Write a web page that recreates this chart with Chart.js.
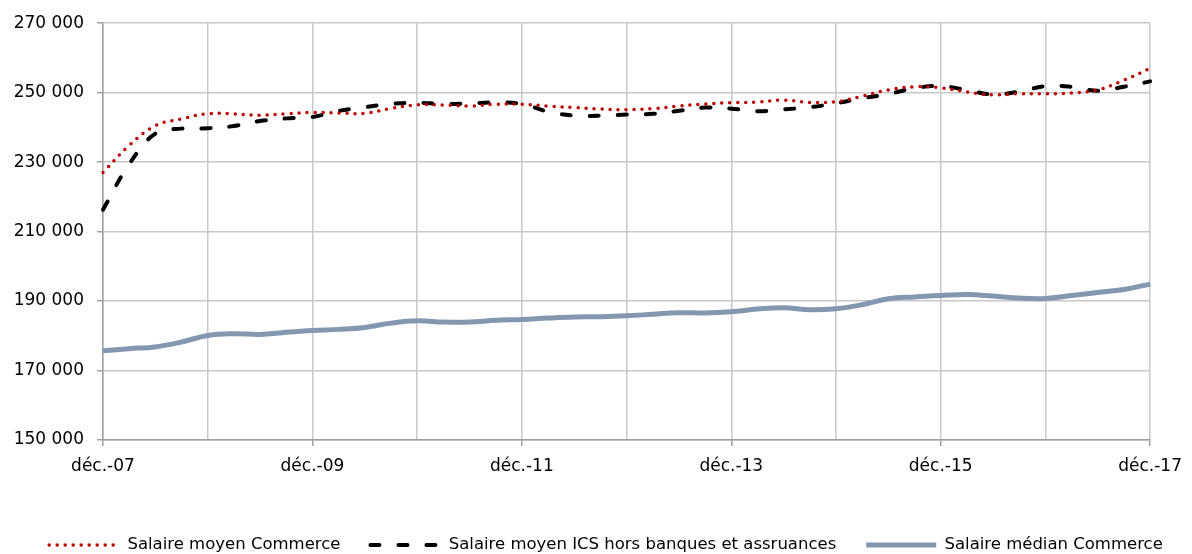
<!DOCTYPE html>
<html>
<head>
<meta charset="utf-8">
<script src="https://cdn.jsdelivr.net/npm/chart.js@4.4.1/dist/chart.umd.min.js"></script>
<style>
  html, body { margin: 0; padding: 0; background: #fff; }
  #wrap { width: 1192px; height: 554px; }
</style>
</head>
<body>
<div id="wrap"><canvas id="salaires"></canvas></div>
<script>
// trimestres de déc. 2007 à déc. 2017
const trimestres = [
  'déc.-07', 'mars-08', 'juin-08', 'sept.-08', 'déc.-08', 'mars-09', 'juin-09', 'sept.-09',
  'déc.-09', 'mars-10', 'juin-10', 'sept.-10', 'déc.-10', 'mars-11', 'juin-11', 'sept.-11',
  'déc.-11', 'mars-12', 'juin-12', 'sept.-12', 'déc.-12', 'mars-13', 'juin-13', 'sept.-13',
  'déc.-13', 'mars-14', 'juin-14', 'sept.-14', 'déc.-14', 'mars-15', 'juin-15', 'sept.-15',
  'déc.-15', 'mars-16', 'juin-16', 'sept.-16', 'déc.-16', 'mars-17', 'juin-17', 'sept.-17',
  'déc.-17'
];

const moyenCommerce = [
  227000, 234800, 240500, 242450, 243950, 243900, 243500, 243950,
  244300, 244150, 244050, 245500, 246500, 246450, 246150, 246650,
  246650, 246150, 245700, 245300, 245100, 245400, 246150, 246750,
  247100, 247300, 247850, 247200, 247400, 249000, 250800, 251700,
  251400, 250200, 249400, 249700, 249700, 249900, 250800, 253600,
  257000
];

const moyenICS = [
  216300, 229400, 238200, 239650, 239750, 240400, 241850, 242600,
  243000, 244750, 245800, 246750, 247100, 246750, 246900, 247200,
  246750, 244550, 243400, 243400, 243700, 243900, 244800, 245700,
  245400, 244650, 245200, 245800, 246950, 248400, 249600, 251300,
  251900, 250750, 249500, 250300, 251900, 251700, 250550, 251700,
  253250
];

const medianCommerce = [
  175700, 176300, 176800, 178200, 180100, 180600, 180400, 181000,
  181550, 181850, 182400, 183650, 184300, 183950, 183950, 184450,
  184700, 185100, 185400, 185500, 185750, 186200, 186650, 186550,
  186900, 187700, 188100, 187500, 187800, 188950, 190650, 191200,
  191600, 191900, 191450, 190850, 190750, 191600, 192450, 193350,
  194880
];

const grille = '#C8C8C8';
const axe = '#A0A0A0';

Chart.defaults.font.family = '"DejaVu Sans", sans-serif';

function milliers(v) {
  return String(v).replace(/\B(?=(\d{3})+(?!\d))/g, ' ');
}

// la légende doit reprendre les pointillés des séries
function legendeLignes(chart) {
  const items = Chart.defaults.plugins.legend.labels.generateLabels(chart);
  items.forEach(it => {
    const ds = chart.data.datasets[it.datasetIndex];
    it.lineDash = ds.borderDash || [];
    it.lineWidth = ds.borderWidth;
    it.lineCap = ds.borderCapStyle || 'butt';
    it.strokeStyle = ds.borderColor;
  });
  return items;
}

const ctx = document.getElementById('salaires').getContext('2d');

new Chart(ctx, {
  type: 'line',
  data: {
    labels: trimestres,
    datasets: [{
      label: 'Salaire moyen Commerce',
      data: moyenCommerce,
      borderColor: '#C00000',
      backgroundColor: '#C00000',
      borderWidth: 3.5,
      borderDash: [0, 8],
      borderCapStyle: 'round',
      pointRadius: 0,
      tension: 0.4
    }, {
      label: 'Salaire moyen ICS hors banques et assruances',
      data: moyenICS,
      borderColor: '#000000',
      backgroundColor: '#000000',
      borderWidth: 4,
      borderDash: [9, 19],
      borderCapStyle: 'round',
      pointRadius: 0,
      tension: 0.4
    }, {
      label: 'Salaire médian Commerce',
      data: medianCommerce,
      borderColor: '#8497B0',
      backgroundColor: '#8497B0',
      borderWidth: 5,
      pointRadius: 0,
      tension: 0.4
    }]
  },
  options: {
    responsive: true,
    maintainAspectRatio: false,
    animation: false,
    layout: {
      padding: { left: 0.7, right: -19.3, top: 22, bottom: -9.25 }
    },
    scales: {
      x: {
        afterFit: s => { s.height = 36.4; },
        grid: {
          color: c => c.index % 4 === 0 ? grille : 'transparent',
          lineWidth: 1.5,
          tickColor: c => c.index % 8 === 0 ? axe : 'transparent',
          tickLength: 6
        },
        border: { color: axe, width: 1.5 },
        ticks: {
          autoSkip: false,
          maxRotation: 0,
          padding: 10,
          color: '#000',
          font: { size: 17 },
          callback: (v, i) => i % 8 === 0 ? trimestres[i] : ''
        }
      },
      y: {
        min: 150000,
        max: 270000,
        grid: {
          color: grille,
          lineWidth: 1.5,
          tickColor: axe,
          tickLength: 6
        },
        border: { color: axe, width: 1.5 },
        ticks: {
          stepSize: 20000,
          padding: 13,
          color: '#000',
          font: { size: 17 },
          callback: v => milliers(v)
        }
      },
      // marge droite du graphique
      marge: {
        type: 'linear',
        position: 'right',
        afterFit: s => { s.width = 58.3; },
        grid: { display: false, drawTicks: false },
        border: { display: false },
        ticks: { display: false }
      }
    },
    plugins: {
      legend: {
        position: 'bottom',
        title: { display: true, text: '', padding: 5.575, font: { size: 16 } },
        labels: {
          usePointStyle: true,
          pointStyle: 'line',
          pointStyleWidth: 70,
          padding: 30,
          color: '#000',
          font: { size: 16.5 },
          generateLabels: legendeLignes
        }
      },
      tooltip: { enabled: false }
    }
  }
});
</script>
</body>
</html>
